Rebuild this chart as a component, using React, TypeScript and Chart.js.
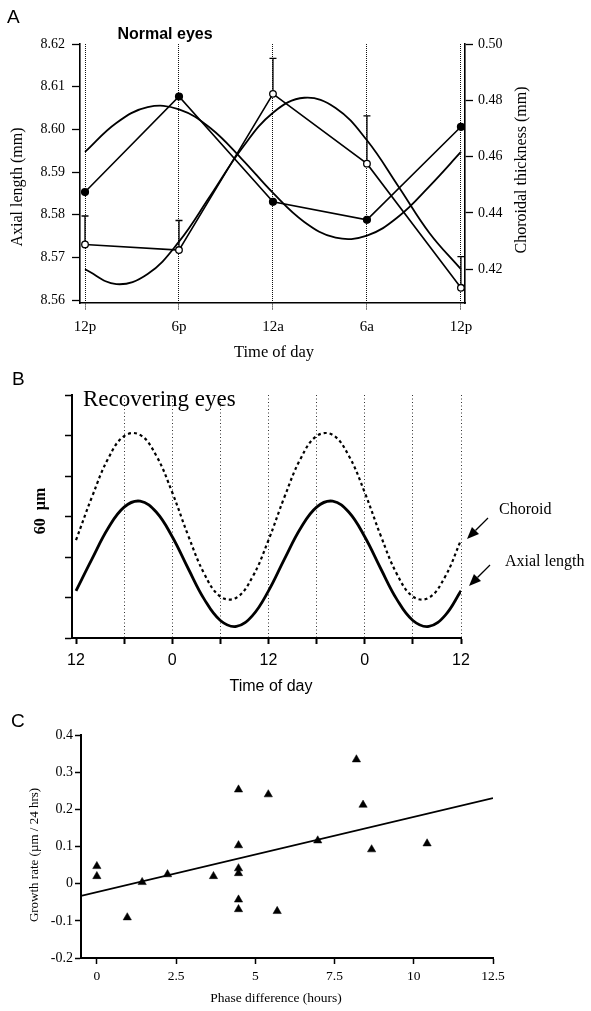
import React, { useEffect, useRef } from "react";
import { Chart, registerables } from "chart.js";
Chart.register(...registerables);

const SERIF = '"Liberation Serif", "Times New Roman", serif';
const SANS = '"Liberation Sans", Arial, sans-serif';

// ---------- Panel A : Normal eyes ----------
const A_TIMES = [0, 6, 12, 18, 24];
const A_TIME_LABELS = ["12p", "6p", "12a", "6a", "12p"];
const A_AXIAL = [8.5853, 8.6077, 8.583, 8.5788, 8.6006];
const A_CHOROID = [0.4288, 0.4268, 0.4823, 0.4575, 0.4134];
const A_CHOROID_ERR_TOP = [0.4389, 0.4373, 0.4949, 0.4745, 0.4245];
const A_FIT_TIMES = [0, 2, 4, 6, 8, 10, 12, 14, 16, 18, 20, 22, 24];
const A_FIT_AXIAL = [8.5947, 8.6015, 8.6052, 8.6047, 8.6003, 8.5931, 8.5851, 8.5783, 8.5746, 8.5751, 8.5795, 8.5867, 8.5947];
const A_FIT_CHOROID = [0.42, 0.4147, 0.4183, 0.4298, 0.4461, 0.4628, 0.4756, 0.4809, 0.4773, 0.4658, 0.4495, 0.4328, 0.42];
const A_AXIAL_TICKS = [8.56, 8.57, 8.58, 8.59, 8.6, 8.61, 8.62];
const A_CHOROID_TICKS = [0.42, 0.44, 0.46, 0.48, 0.5];

// ---------- Panel B : Recovering eyes ----------
const B_TIMES = [0, 2, 4, 6, 8, 10, 12, 14, 16, 18, 20, 22, 24, 26, 28, 30, 32, 34, 36, 38, 40, 42, 44, 46, 48];
const B_CHOROID = [2.418, 3.487, 4.428, 4.987, 5.015, 4.504, 3.592, 2.523, 1.582, 1.023, 0.995, 1.506, 2.418, 3.487, 4.428, 4.987, 5.015, 4.504, 3.592, 2.523, 1.582, 1.023, 0.995, 1.506, 2.418];
const B_AXIAL = [1.164, 1.954, 2.71, 3.232, 3.378, 3.11, 2.5, 1.71, 0.954, 0.432, 0.286, 0.554, 1.164, 1.954, 2.71, 3.232, 3.378, 3.11, 2.5, 1.71, 0.954, 0.432, 0.286, 0.554, 1.164];
const B_X_TICKS = [0, 6, 12, 18, 24, 30, 36, 42, 48];
const B_X_LABELS = ["12", "", "0", "", "12", "", "0", "", "12"];
const B_Y_TICKS = [0, 1, 2, 3, 4, 5, 6];

// ---------- Panel C : growth vs phase ----------
const C_PHASE = [0, 0, 0.96, 1.43, 2.23, 3.68, 4.47, 4.47, 4.47, 4.47, 4.47, 4.47, 5.41, 5.69, 6.97, 8.19, 8.4, 8.67, 10.42];
const C_GROWTH = [0.047, 0.02, -0.091, 0.004, 0.025, 0.02, 0.253, 0.103, 0.041, 0.028, -0.043, -0.069, 0.24, -0.074, 0.116, 0.334, 0.212, 0.092, 0.108];
const C_FIT_X = [-0.5, 12.5];
const C_FIT_Y = [-0.033, 0.23];
const C_X_TICKS = [0, 2.5, 5, 7.5, 10, 12.5];
const C_Y_TICKS = [-0.2, -0.1, 0, 0.1, 0.2, 0.3, 0.4];

type Txt = { text: string; x: number; y: number; font: string; align?: CanvasTextAlign; baseline?: CanvasTextBaseline; rotate?: number };

function textPlugin(id: string, items: Txt[], extra?: (ctx: CanvasRenderingContext2D, chart: any) => void) {
  return {
    id,
    afterDraw(chart: any) {
      const ctx: CanvasRenderingContext2D = chart.ctx;
      ctx.save();
      ctx.fillStyle = "#000";
      ctx.strokeStyle = "#000";
      for (const t of items) {
        ctx.save();
        ctx.translate(t.x, t.y);
        if (t.rotate) ctx.rotate(t.rotate);
        ctx.font = t.font;
        ctx.textAlign = t.align ?? "left";
        ctx.textBaseline = t.baseline ?? "middle";
        ctx.fillText(t.text, 0, 0);
        ctx.restore();
      }
      if (extra) extra(ctx, chart);
      ctx.restore();
    },
  };
}

const setTicks = (vals: number[]) => (s: any) => {
  s.ticks = vals.map((v) => ({ value: v }));
};

function configA(): any {
  const errPlugin = {
    id: "errbars",
    beforeDatasetsDraw(chart: any) {
      const ctx = chart.ctx;
      const xs = chart.scales.x;
      const ys = chart.scales.y1;
      ctx.save();
      ctx.strokeStyle = "#000";
      ctx.lineWidth = 1.3;
      A_TIMES.forEach((t, i) => {
        const x = xs.getPixelForValue(t);
        const y0 = ys.getPixelForValue(A_CHOROID[i]);
        const y1 = ys.getPixelForValue(A_CHOROID_ERR_TOP[i]);
        ctx.beginPath();
        ctx.moveTo(x, y0);
        ctx.lineTo(x, y1);
        ctx.moveTo(x - 3.5, y1);
        ctx.lineTo(x + 3.5, y1);
        ctx.stroke();
      });
      ctx.restore();
    },
  };
  const texts = textPlugin("textsA", [
    { text: "A", x: 7, y: 23, font: `19px ${SANS}`, baseline: "alphabetic" },
    { text: "Normal eyes", x: 165, y: 35, font: `bold 16px ${SANS}`, align: "center" },
    { text: "Axial length (mm)", x: 18, y: 187, font: `16px ${SERIF}`, align: "center", rotate: -Math.PI / 2 },
    { text: "Choroidal thickness (mm)", x: 522, y: 170, font: `16px ${SERIF}`, align: "center", rotate: -Math.PI / 2 },
    { text: "Time of day", x: 274, y: 353, font: `16.5px ${SERIF}`, align: "center" },
  ]);
  return {
    type: "line",
    data: {
      datasets: [
        {
          label: "Choroid",
          data: A_TIMES.map((t, i) => ({ x: t, y: A_CHOROID[i] })),
          yAxisID: "y1",
          borderColor: "#000",
          borderWidth: 1.6,
          pointRadius: 3.3,
          pointBackgroundColor: "#fff",
          pointBorderColor: "#000",
          pointBorderWidth: 1.3,
          tension: 0,
        },
        {
          label: "Axial",
          data: A_TIMES.map((t, i) => ({ x: t, y: A_AXIAL[i] })),
          yAxisID: "y",
          borderColor: "#000",
          borderWidth: 1.6,
          pointRadius: 3.3,
          pointBackgroundColor: "#000",
          pointBorderColor: "#000",
          tension: 0,
        },
        {
          label: "Axial fit",
          data: A_FIT_TIMES.map((t, i) => ({ x: t, y: A_FIT_AXIAL[i] })),
          yAxisID: "y",
          borderColor: "#000",
          borderWidth: 1.8,
          pointRadius: 0,
          tension: 0.4,
        },
        {
          label: "Choroid fit",
          data: A_FIT_TIMES.map((t, i) => ({ x: t, y: A_FIT_CHOROID[i] })),
          yAxisID: "y1",
          borderColor: "#000",
          borderWidth: 1.8,
          pointRadius: 0,
          tension: 0.4,
        },
      ],
    },
    options: {
      responsive: false,
      animation: false,
      devicePixelRatio: 1,
      layout: { padding: { top: 44, left: 0, right: 0, bottom: 0 } },
      plugins: { legend: { display: false }, tooltip: { enabled: false } },
      scales: {
        x: {
          type: "linear",
          position: "bottom",
          min: -0.32,
          max: 24.26,
          afterBuildTicks: setTicks(A_TIMES),
          afterFit: (s: any) => { s.height = 62; },
          ticks: {
            autoSkip: false,
            maxRotation: 0,
            padding: 8,
            color: "#000",
            font: { family: SERIF, size: 15 },
            callback: (v: number) => A_TIME_LABELS[A_TIMES.indexOf(v)] ?? "",
          },
          grid: { color: "#111", lineWidth: 1, tickLength: 7, tickColor: "#111", tickBorderDash: [1, 1] },
          border: { display: true, color: "#000", width: 1.6, dash: [1, 1] },
        },
        y: {
          type: "linear",
          position: "left",
          min: 8.5593,
          max: 8.62,
          afterBuildTicks: setTicks(A_AXIAL_TICKS),
          afterFit: (s: any) => { s.width = 80; },
          ticks: { padding: 7, color: "#000", font: { family: SERIF, size: 14 }, callback: (v: number) => v.toFixed(2) },
          grid: { drawOnChartArea: false, tickLength: 8, tickColor: "#000", tickWidth: 1.3 },
          border: { display: true, color: "#000", width: 1.6 },
        },
        y1: {
          type: "linear",
          position: "right",
          min: 0.408,
          max: 0.5,
          afterBuildTicks: setTicks(A_CHOROID_TICKS),
          afterFit: (s: any) => { s.width = 126; },
          ticks: { padding: 5, color: "#000", font: { family: SERIF, size: 14 }, callback: (v: number) => v.toFixed(2) },
          grid: { drawOnChartArea: false, tickLength: 8, tickColor: "#000", tickWidth: 1.3 },
          border: { display: true, color: "#000", width: 1.6 },
        },
      },
    },
    plugins: [errPlugin, texts],
  };
}

function arrow(ctx: CanvasRenderingContext2D, x0: number, y0: number, x1: number, y1: number) {
  const ang = Math.atan2(y1 - y0, x1 - x0);
  const headLen = 12;
  const headW = 5;
  const bx = x1 - headLen * Math.cos(ang);
  const by = y1 - headLen * Math.sin(ang);
  ctx.lineWidth = 1.3;
  ctx.beginPath();
  ctx.moveTo(x0, y0);
  ctx.lineTo(bx, by);
  ctx.stroke();
  ctx.beginPath();
  ctx.moveTo(x1, y1);
  ctx.lineTo(bx + headW * Math.sin(ang), by - headW * Math.cos(ang));
  ctx.lineTo(bx - headW * Math.sin(ang), by + headW * Math.cos(ang));
  ctx.closePath();
  ctx.fill();
}

function configB(): any {
  const texts = textPlugin(
    "textsB",
    [
      { text: "B", x: 12, y: 20, font: `19px ${SANS}`, baseline: "alphabetic" },
      { text: "Recovering eyes", x: 83, y: 35, font: `23px ${SERIF}` },
      { text: "60  \u00b5m", x: 41, y: 146, font: `bold 16px ${SERIF}`, align: "center", rotate: -Math.PI / 2 },
      { text: "Time of day", x: 271, y: 322, font: `16px ${SANS}`, align: "center" },
      { text: "Choroid", x: 499, y: 145, font: `16px ${SERIF}` },
      { text: "Axial length", x: 505, y: 197, font: `16px ${SERIF}` },
    ],
    (ctx) => {
      arrow(ctx, 488, 153, 467, 174);
      arrow(ctx, 490, 200, 469, 221);
    }
  );
  return {
    type: "line",
    data: {
      datasets: [
        {
          label: "Axial length",
          data: B_TIMES.map((t, i) => ({ x: t, y: B_AXIAL[i] })),
          borderColor: "#000",
          borderWidth: 2.8,
          pointRadius: 0,
          tension: 0.4,
        },
        {
          label: "Choroid",
          data: B_TIMES.map((t, i) => ({ x: t, y: B_CHOROID[i] })),
          borderColor: "#000",
          borderWidth: 2.2,
          borderDash: [3, 3],
          pointRadius: 0,
          tension: 0.4,
        },
      ],
    },
    options: {
      responsive: false,
      animation: false,
      devicePixelRatio: 1,
      layout: { padding: { top: 30, left: 0, right: 130, bottom: 0 } },
      plugins: { legend: { display: false }, tooltip: { enabled: false } },
      scales: {
        x: {
          type: "linear",
          position: "bottom",
          min: -0.5,
          max: 48,
          afterBuildTicks: setTicks(B_X_TICKS),
          afterFit: (s: any) => { s.height = 67; },
          ticks: {
            autoSkip: false,
            maxRotation: 0,
            padding: 7,
            color: "#000",
            font: { family: SANS, size: 16 },
            callback: (v: number) => B_X_LABELS[B_X_TICKS.indexOf(v)] ?? "",
          },
          grid: {
            color: (c: any) => (c.tick && c.tick.value === 0 ? "rgba(0,0,0,0)" : "#333"),
            lineWidth: 1,
            tickLength: 6,
            tickColor: "#000",
            tickWidth: 2,
          },
          border: { display: true, color: "#000", width: 2, dash: [1, 2.5] },
        },
        y: {
          type: "linear",
          position: "left",
          min: 0,
          max: 6,
          afterBuildTicks: setTicks(B_Y_TICKS),
          afterFit: (s: any) => { s.width = 72; },
          ticks: { callback: () => "", padding: 0 },
          grid: { drawOnChartArea: false, tickLength: 7, tickColor: "#000", tickWidth: 1.5 },
          border: { display: true, color: "#000", width: 2 },
        },
      },
    },
    plugins: [texts],
  };
}

function configC(): any {
  const texts = textPlugin("textsC", [
    { text: "C", x: 11, y: 22, font: `19px ${SANS}`, baseline: "alphabetic" },
    { text: "Growth rate (\u00b5m / 24 hrs)", x: 35, y: 150, font: `13px ${SERIF}`, align: "center", rotate: -Math.PI / 2 },
    { text: "Phase difference (hours)", x: 276, y: 293, font: `13.5px ${SERIF}`, align: "center" },
  ]);
  return {
    type: "scatter",
    data: {
      datasets: [
        {
          label: "Eyes",
          data: C_PHASE.map((x, i) => ({ x, y: C_GROWTH[i] })),
          pointStyle: "triangle",
          pointRadius: 4.8,
          pointBackgroundColor: "#000",
          pointBorderColor: "#000",
          pointBorderWidth: 0.5,
        },
        {
          label: "Fit",
          data: C_FIT_X.map((x, i) => ({ x, y: C_FIT_Y[i] })),
          showLine: true,
          borderColor: "#000",
          borderWidth: 1.8,
          pointRadius: 0,
        },
      ],
    },
    options: {
      responsive: false,
      animation: false,
      devicePixelRatio: 1,
      layout: { padding: { top: 30, left: 0, right: 98, bottom: 0 } },
      plugins: { legend: { display: false }, tooltip: { enabled: false } },
      scales: {
        x: {
          type: "linear",
          position: "bottom",
          min: -0.5,
          max: 12.5,
          afterBuildTicks: setTicks(C_X_TICKS),
          afterFit: (s: any) => { s.height = 53; },
          ticks: {
            autoSkip: false,
            maxRotation: 0,
            padding: 4.5,
            color: "#000",
            font: { family: SERIF, size: 13.5 },
            callback: (v: number) => String(v),
          },
          grid: { drawOnChartArea: false, tickLength: 6, tickColor: "#000", tickWidth: 1.5 },
          border: { display: true, color: "#000", width: 2 },
        },
        y: {
          type: "linear",
          position: "left",
          min: -0.2,
          max: 0.4,
          afterBuildTicks: setTicks(C_Y_TICKS),
          afterFit: (s: any) => { s.width = 81; },
          ticks: {
            padding: 2,
            color: "#000",
            font: { family: SERIF, size: 14 },
            callback: (v: number) => (Math.abs(v) < 1e-9 ? "0" : v.toFixed(1)),
          },
          grid: { drawOnChartArea: false, tickLength: 6, tickColor: "#000", tickWidth: 1.5 },
          border: { display: true, color: "#000", width: 2 },
        },
      },
    },
    plugins: [texts],
  };
}

function Panel({ top, height, make }: { top: number; height: number; make: () => any }) {
  const ref = useRef<HTMLCanvasElement>(null);
  useEffect(() => {
    const chart = new Chart(ref.current as HTMLCanvasElement, make());
    return () => chart.destroy();
  }, []);
  return (
    <canvas
      ref={ref}
      width={591}
      height={height}
      style={{ position: "absolute", left: 0, top, width: 591, height }}
    />
  );
}

export default function App() {
  return (
    <div style={{ position: "absolute", left: 0, top: 0, width: 591, height: 1011, background: "#fff" }}>
      <Panel top={0} height={365} make={configA} />
      <Panel top={365} height={340} make={configB} />
      <Panel top={705} height={306} make={configC} />
    </div>
  );
}
